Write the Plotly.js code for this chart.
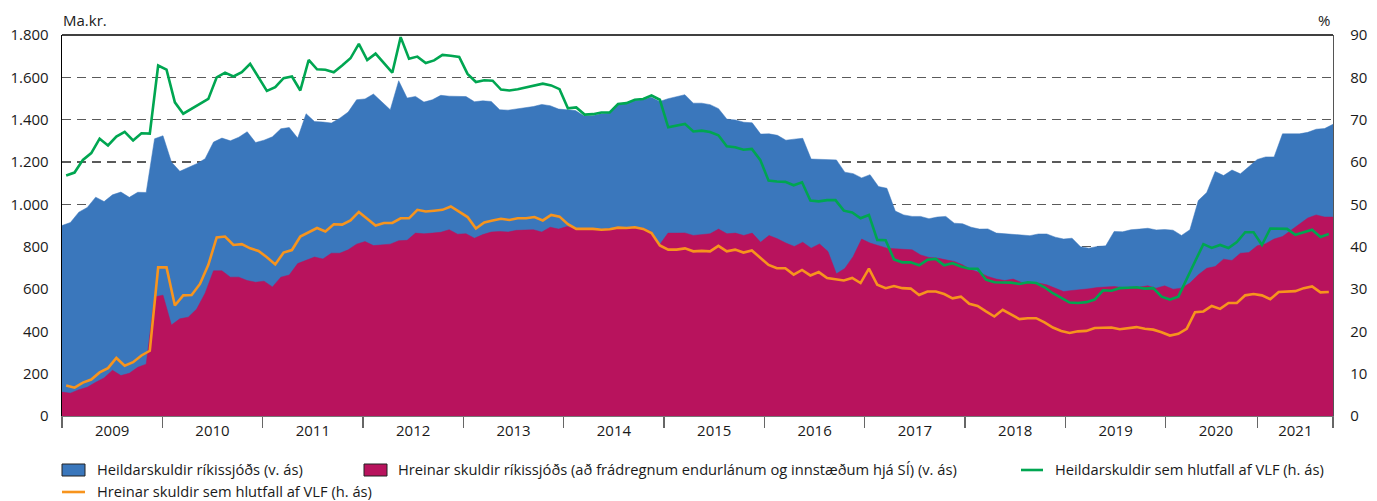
<!DOCTYPE html>
<html>
<head>
<meta charset="utf-8">
<script src="https://cdn.plot.ly/plotly-3.0.1.min.js"></script>
<style>
  html, body { margin: 0; padding: 0; background: #fff; }
  #chart { width: 1377px; height: 501px; }
</style>
</head>
<body>
<div id="chart"></div>
<script>
// ---- Categories: monthly, Jan 2009 - Aug 2021 ----
const months = [];
for (let y = 2009; y <= 2021; y++) {
  for (let m = 1; m <= 12; m++) {
    if (y === 2021 && m > 8) break;
    months.push(y + '-' + String(m).padStart(2, '0'));
  }
}

// Heildarskuldir ríkissjóðs (v. ás), ma.kr.
const totalDebt = [
  900, 914, 963, 985, 1034, 1013, 1045, 1058, 1033, 1057, 1056, 1310,
  1324, 1200, 1156, 1173, 1192, 1215, 1294, 1313, 1300, 1317, 1343, 1292,
  1303, 1319, 1357, 1363, 1313, 1428, 1391, 1389, 1384, 1407, 1436, 1494,
  1498, 1521, 1483, 1447, 1584, 1502, 1510, 1483, 1494, 1515, 1511, 1510,
  1509, 1485, 1489, 1486, 1447, 1445, 1450, 1455, 1462, 1472, 1466, 1450,
  1447, 1443, 1418, 1419, 1428, 1431, 1470, 1475, 1489, 1494, 1506, 1486,
  1499, 1510, 1518, 1478, 1478, 1471, 1452, 1402, 1399, 1388, 1385, 1332,
  1333, 1326, 1303, 1308, 1312, 1214, 1212, 1213, 1210, 1152, 1145, 1125,
  1140, 1084, 1076, 968, 950, 943, 943, 932, 940, 943, 911, 908,
  892, 883, 884, 864, 861, 858, 856, 852, 860, 860, 845, 836,
  840, 800, 793, 801, 804, 872, 870, 880, 883, 887, 879, 881,
  878, 853, 880, 1018, 1056, 1155, 1136, 1162, 1144, 1179, 1212, 1224,
  1224, 1333, 1333, 1333, 1340, 1355, 1358, 1378
];

// Hreinar skuldir ríkissjóðs (v. ás), ma.kr.
const netDebt = [
  113, 108, 124, 136, 159, 180, 216, 191, 202, 230, 245, 563,
  571, 430, 459, 467, 505, 580, 686, 686, 656, 656, 640, 632,
  637, 610, 656, 666, 720, 735, 751, 742, 769, 769, 785, 812,
  824, 805, 809, 812, 828, 830, 864, 861, 864, 868, 880, 859,
  861, 840, 857, 869, 872, 869, 877, 877, 880, 869, 892, 883,
  895, 884, 884, 883, 880, 883, 887, 884, 892, 887, 872, 809,
  864, 864, 865, 853, 856, 861, 883, 861, 864, 853, 864, 821,
  853, 837, 817, 801, 821, 793, 813, 777, 672, 697, 754, 836,
  817, 806, 793, 790, 789, 785, 761, 749, 746, 738, 730, 714,
  691, 678, 659, 647, 640, 647, 631, 628, 628, 620, 604, 588,
  593, 596, 601, 607, 609, 612, 607, 607, 609, 615, 604, 615,
  599, 604, 628, 667, 698, 706, 741, 735, 769, 772, 804, 814,
  836, 848, 876, 903, 935, 950, 940, 940
];

// Heildarskuldir sem hlutfall af VLF (h. ás), %
const totalPctGDP = [
  56.8, 57.5, 60.5, 62.1, 65.5, 63.9, 66.0, 67.1, 65.1, 66.8, 66.7, 82.8,
  81.8, 74.1, 71.4, 72.5, 73.7, 74.9, 80.0, 81.1, 80.2, 81.2, 83.2, 80.0,
  76.8, 77.7, 79.8, 80.2, 76.9, 84.1, 81.9, 81.8, 81.2, 82.8, 84.5, 87.9,
  84.1, 85.6, 83.4, 81.1, 89.5, 84.4, 84.9, 83.4, 84.0, 85.3, 85.1, 84.8,
  80.8, 78.9, 79.3, 79.2, 77.1, 76.9, 77.2, 77.6, 78.1, 78.5, 78.1, 77.2,
  72.7, 72.9, 71.2, 71.3, 71.7, 71.7, 73.7, 73.9, 74.7, 74.9, 75.7, 74.7,
  68.2, 68.6, 69.0, 67.2, 67.4, 67.1, 66.3, 63.7, 63.5, 62.9, 63.1, 60.5,
  55.6, 55.4, 55.3, 54.5, 55.2, 50.9, 50.7, 51.0, 51.0, 48.5, 48.1, 46.7,
  47.5, 41.6, 41.5, 37.0, 36.3, 36.3, 35.6, 36.9, 37.1, 35.6, 36.1, 35.3,
  34.8, 34.8, 32.2, 31.6, 31.5, 31.5, 31.2, 31.6, 31.4, 30.4, 29.0, 27.9,
  26.8, 26.7, 26.9, 27.5, 29.7, 29.6, 30.2, 30.3, 30.4, 30.1, 30.2, 28.2,
  27.5, 28.2, 32.5, 36.5, 40.6, 39.7, 40.4, 39.7, 41.1, 43.4, 43.4, 40.4,
  44.3, 44.3, 44.2, 42.8, 43.4, 44.0, 42.3, 43.0
];

// Hreinar skuldir sem hlutfall af VLF (h. ás), %
const netPctGDP = [
  7.2, 6.7, 7.9, 8.6, 10.3, 11.3, 13.7, 11.9, 12.7, 14.3, 15.4, 35.1,
  35.1, 26.1, 28.5, 28.6, 31.2, 35.7, 42.2, 42.4, 40.4, 40.6, 39.6, 39.0,
  37.5, 35.8, 38.6, 39.2, 42.4, 43.4, 44.4, 43.6, 45.3, 45.2, 46.2, 48.2,
  46.7, 45.0, 45.6, 45.6, 46.7, 46.7, 48.7, 48.3, 48.5, 48.7, 49.5, 48.3,
  47.0, 44.3, 45.7, 46.2, 46.6, 46.3, 46.7, 46.7, 47.0, 46.2, 47.5, 47.1,
  45.3, 44.2, 44.2, 44.2, 44.0, 44.1, 44.5, 44.4, 44.6, 44.2, 43.2, 40.3,
  39.3, 39.3, 39.6, 38.9, 39.0, 38.9, 40.2, 38.9, 39.3, 38.6, 39.1, 37.3,
  35.7, 34.9, 34.9, 33.4, 34.5, 33.2, 34.0, 32.6, 32.3, 32.0, 32.6, 31.4,
  34.8, 31.0, 30.2, 30.7, 30.2, 30.1, 28.6, 29.4, 29.4, 28.8, 27.8, 28.2,
  26.5, 26.0, 24.7, 23.5, 25.1, 24.1, 22.9, 23.1, 23.1, 22.1, 20.9, 20.1,
  19.6, 20.0, 20.1, 20.8, 20.8, 20.9, 20.5, 20.8, 21.0, 20.6, 20.4, 19.8,
  19.0, 19.4, 20.6, 24.5, 24.7, 26.0, 25.3, 26.7, 26.7, 28.5, 28.8, 28.5,
  27.6, 29.3, 29.4, 29.5, 30.2, 30.6, 29.2, 29.3
];

// Year tick labels
const yearLabels = ['2009','2010','2011','2012','2013','2014','2015','2016','2017','2018','2019','2020','2021'];

const seriesNames = [
  'Heildarskuldir ríkissjóðs (v. ás)',
  'Hreinar skuldir ríkissjóðs (að frádregnum endurlánum og innstæðum hjá SÍ) (v. ás)',
  'Heildarskuldir sem hlutfall af VLF (h. ás)',
  'Hreinar skuldir sem hlutfall af VLF (h. ás)'
];

const C_BLUE = '#3A77BC', C_RED = '#B8135D', C_GREEN = '#00A651', C_ORANGE = '#F7941D';
const FONT = '"Open Sans", Roboto, sans-serif';
const TXT = '#1a1a1a';

const idx = months.map((_, i) => i);
const n = months.length;

// year boundaries (tick marks) and label positions, on month-index scale
const yearStartIdx = yearLabels.map(y => months.indexOf(y + '-01'));
const boundTicks = yearStartIdx.slice(0, 12).map(i => i - 0.5);
boundTicks.push(yearStartIdx[12] - 1.5);   // 2021 tick as drawn in the original
boundTicks.push(n - 0.5);
const labelPos = [];
for (let k = 0; k < 12; k++) labelPos.push(yearStartIdx[k] + 5.5);
labelPos.push((boundTicks[12] + boundTicks[13]) / 2);

const traces = [
  { x: idx, y: totalDebt, type: 'scatter', mode: 'lines', fill: 'tozeroy',
    fillcolor: C_BLUE, line: { color: C_BLUE, width: 0.5 }, name: seriesNames[0],
    xaxis: 'x', yaxis: 'y', hoverinfo: 'skip' },
  { x: idx, y: netDebt, type: 'scatter', mode: 'lines', fill: 'tozeroy',
    fillcolor: C_RED, line: { color: C_RED, width: 0.5 }, name: seriesNames[1],
    xaxis: 'x', yaxis: 'y', hoverinfo: 'skip' },
  { x: idx, y: totalPctGDP, type: 'scatter', mode: 'lines',
    line: { color: C_GREEN, width: 2.6 }, name: seriesNames[2],
    xaxis: 'x2', yaxis: 'y2', hoverinfo: 'skip' },
  { x: idx, y: netPctGDP, type: 'scatter', mode: 'lines',
    line: { color: C_ORANGE, width: 2.6 }, name: seriesNames[3],
    xaxis: 'x2', yaxis: 'y2', hoverinfo: 'skip' }
];

// pixel -> paper helpers for legend / unit labels
const L = 62, R = 44, T = 35, B = 85, W = 1377, H = 501;
const pw = W - L - R, ph = H - T - B;
const px = v => (v - L) / pw;
const py = v => (H - B - v) / ph;

const legFont = { family: FONT, size: 14.7, color: TXT };
const annotations = [
  { text: 'Ma.kr.', x: px(61), y: py(20), xref: 'paper', yref: 'paper', xanchor: 'left', yanchor: 'middle', showarrow: false, font: { family: FONT, size: 15, color: TXT } },
  { text: '%', x: px(1332), y: py(20), xref: 'paper', yref: 'paper', xanchor: 'right', yanchor: 'middle', showarrow: false, font: { family: FONT, size: 15, color: TXT } },
  { text: seriesNames[0], x: px(95), y: py(469), xref: 'paper', yref: 'paper', xanchor: 'left', yanchor: 'middle', showarrow: false, font: legFont },
  { text: seriesNames[1], x: px(396), y: py(469), xref: 'paper', yref: 'paper', xanchor: 'left', yanchor: 'middle', showarrow: false, font: legFont },
  { text: seriesNames[2], x: px(1053), y: py(469), xref: 'paper', yref: 'paper', xanchor: 'left', yanchor: 'middle', showarrow: false, font: legFont },
  { text: seriesNames[3], x: px(95), y: py(491), xref: 'paper', yref: 'paper', xanchor: 'left', yanchor: 'middle', showarrow: false, font: legFont }
];

const shapes = [
  // top frame line
  { type: 'line', xref: 'paper', yref: 'paper', x0: 0, x1: 1, y0: 1, y1: 1, line: { color: '#000', width: 1.3 } },
  // legend symbols
  { type: 'rect', xref: 'paper', yref: 'paper', x0: px(62), x1: px(85), y0: py(464), y1: py(476), fillcolor: C_BLUE, line: { color: '#222', width: 1 } },
  { type: 'rect', xref: 'paper', yref: 'paper', x0: px(364), x1: px(387), y0: py(464), y1: py(476), fillcolor: C_RED, line: { color: '#222', width: 1 } },
  { type: 'line', xref: 'paper', yref: 'paper', x0: px(1021), x1: px(1043), y0: py(470), y1: py(470), line: { color: C_GREEN, width: 2.6 } },
  { type: 'line', xref: 'paper', yref: 'paper', x0: px(62), x1: px(85), y0: py(492), y1: py(492), line: { color: C_ORANGE, width: 2.6 } }
];

const layout = {
  width: W, height: H,
  margin: { l: L, r: R, t: T, b: B, pad: 0 },
  paper_bgcolor: '#fff', plot_bgcolor: '#fff',
  showlegend: false,
  separators: ',.',
  font: { family: FONT, size: 15, color: TXT },
  xaxis: { range: [0, n - 1], visible: false, fixedrange: true },
  xaxis2: {
    overlaying: 'x', anchor: 'y', side: 'bottom',
    range: [-0.5, n - 0.5],
    tickmode: 'array', tickvals: labelPos, ticktext: yearLabels,
    ticks: 'outside', ticklen: 1, tickcolor: 'rgba(0,0,0,0)',
    minor: { tickmode: 'array', tickvals: boundTicks, ticks: 'outside', ticklen: 11, tickwidth: 1.2, tickcolor: '#666', showgrid: false },
    showline: true, linecolor: '#777', linewidth: 1.3,
    showgrid: false, zeroline: false,
    tickfont: { family: FONT, size: 15, color: TXT }
  },
  yaxis: {
    range: [0, 1800], dtick: 200, tick0: 0,
    tickformat: ',d', separatethousands: true,
    showgrid: true, gridcolor: '#5a5a5a', gridwidth: 1.4, griddash: '9px,6px',
    zeroline: false, showline: true, linecolor: '#000', linewidth: 1.3,
    ticks: 'outside', ticklen: 9, tickcolor: 'rgba(0,0,0,0)',
    tickfont: { family: FONT, size: 15, color: TXT }
  },
  yaxis2: {
    overlaying: 'y', side: 'right', anchor: 'x2',
    range: [0, 90], dtick: 10, tick0: 0,
    showgrid: false, zeroline: false,
    showline: true, linecolor: '#555', linewidth: 1.3,
    ticks: 'outside', ticklen: 13, tickcolor: 'rgba(0,0,0,0)',
    tickfont: { family: FONT, size: 15, color: TXT }
  },
  annotations: annotations,
  shapes: shapes
};

Plotly.newPlot('chart', traces, layout, { staticPlot: true, displayModeBar: false });
</script>
</body>
</html>
